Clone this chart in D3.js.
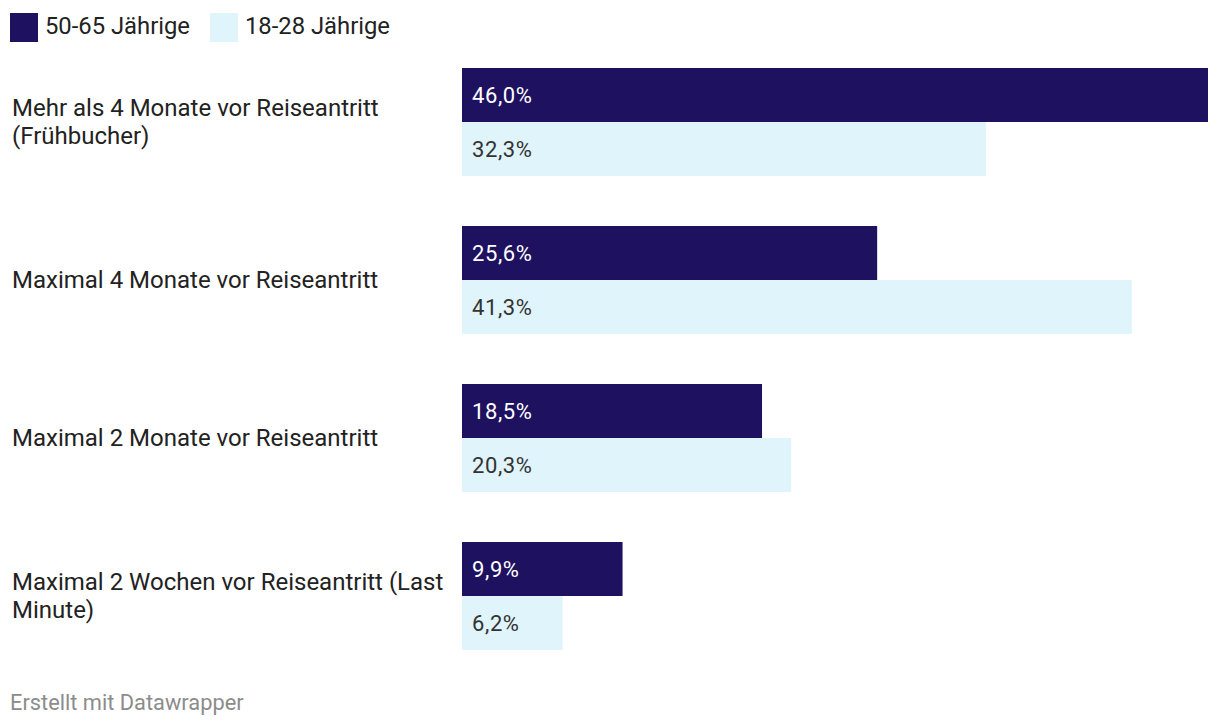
<!DOCTYPE html>
<html>
<head>
<meta charset="utf-8">
<script src="https://cdn.jsdelivr.net/npm/d3@7"></script>
<style>
  body { margin: 0; background: #fff; }
  svg { font-family: Roboto, "Noto Sans", sans-serif; }
</style>
</head>
<body>
<svg id="chart" width="1220" height="728"></svg>
<script>
// data
var categories = [
    "Mehr als 4 Monate vor Reiseantritt (Frühbucher)",
    "Maximal 4 Monate vor Reiseantritt",
    "Maximal 2 Monate vor Reiseantritt",
    "Maximal 2 Wochen vor Reiseantritt (Last Minute)"
];
var seriesNames = ["50-65 Jährige", "18-28 Jährige"];
var seriesColors = ["#1e1160", "#e0f4fb"];
var labelColors = ["#ffffff", "#333333"];
var older = [46.0, 25.6, 18.5, 9.9];
var younger = [32.3, 41.3, 20.3, 6.2];
var values = [older, younger];

var svg = d3.select("#chart");

var barLeft = 462, barRight = 1208;
var top0 = 68, groupStep = 158, barH = 54;

var x = d3.scaleLinear()
    .domain([0, d3.max(older.concat(younger))])
    .range([barLeft, barRight]);

var y = d3.scaleBand()
    .domain(categories)
    .range([top0, top0 + groupStep * categories.length])
    .paddingInner(0);

var fmt = function (v) { return d3.format(".1f")(v).replace(".", ",") + "%"; };

// legend
var legend = svg.append("g");
var legendX = [10, 210];
seriesNames.forEach(function (name, i) {
    legend.append("rect")
        .attr("x", legendX[i])
        .attr("y", 13)
        .attr("width", 28)
        .attr("height", 29)
        .attr("fill", seriesColors[i]);
    legend.append("text")
        .attr("x", legendX[i] + 35)
        .attr("y", 34)
        .attr("fill", "#222")
        .style("font-size", "23.8px")
        .text(name);
});

// bars
var groups = svg.append("g")
    .selectAll("g")
    .data(categories)
    .enter()
    .append("g")
    .attr("transform", function (d) { return "translate(0," + y(d) + ")"; });

seriesNames.forEach(function (name, s) {
    groups.append("rect")
        .attr("x", x(0))
        .attr("y", s * barH)
        .attr("width", function (d, i) { return x(values[s][i]) - x(0); })
        .attr("height", barH)
        .attr("fill", seriesColors[s]);

    groups.append("text")
        .attr("x", x(0) + 10)
        .attr("y", s * barH + barH / 2)
        .attr("dy", "0.35em")
        .attr("fill", labelColors[s])
        .style("font-size", "22px")
        .style("letter-spacing", "0.6px")
        .text(function (d, i) { return fmt(values[s][i]); });
});

// category labels, wrapped
var maxLabelW = 450, lineH = 28;
groups.append("text")
    .attr("class", "cat")
    .attr("x", 12)
    .attr("fill", "#222")
    .style("font-size", "24px")
    .each(function (d) {
        var el = d3.select(this);
        var words = d.split(" ");
        var lines = [], line = [];
        var probe = el.append("tspan");
        words.forEach(function (w) {
            line.push(w);
            probe.text(line.join(" "));
            if (probe.node().getComputedTextLength() > maxLabelW && line.length > 1) {
                line.pop();
                lines.push(line.join(" "));
                line = [w];
            }
        });
        lines.push(line.join(" "));
        probe.remove();
        var first = barH - (lines.length - 1) * lineH / 2;
        lines.forEach(function (l, k) {
            el.append("tspan")
                .attr("x", 12)
                .attr("y", first + k * lineH)
                .attr("dy", "0.35em")
                .text(l);
        });
    });

// footer
svg.append("text")
    .attr("x", 10)
    .attr("y", 710)
    .attr("fill", "#8c8c8c")
    .style("font-size", "21.8px")
    .text("Erstellt mit Datawrapper");
</script>
</body>
</html>
